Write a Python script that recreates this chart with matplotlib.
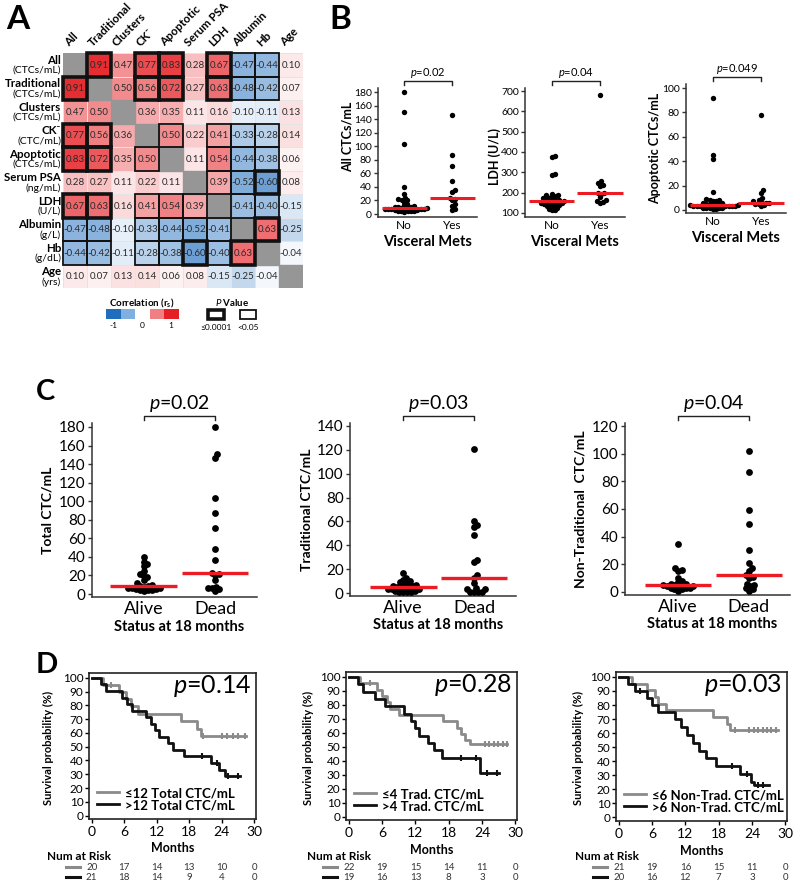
import numpy as np
import matplotlib
matplotlib.use("Agg")
import matplotlib.pyplot as plt
from matplotlib.colors import LinearSegmentedColormap
from matplotlib.patches import Rectangle
from matplotlib.lines import Line2D
from matplotlib.transforms import blended_transform_factory

plt.rcParams["font.family"] = ["Lato", "DejaVu Sans"]
plt.rcParams["mathtext.fontset"] = "custom"
plt.rcParams["mathtext.rm"] = "Lato"
plt.rcParams["mathtext.it"] = "Lato:italic"
plt.rcParams["mathtext.bf"] = "Lato:bold"

W, H = 800, 890

# ---------------- A: Spearman correlation matrix ----------------
VARS = ["All", "Traditional", "Clusters", "CK\u207b", "Apoptotic", "Serum PSA",
        "LDH", "Albumin", "Hb", "Age"]
UNITS = ["(CTCs/mL)", "(CTCs/mL)", "(CTCs/mL)", "(CTC/mL)", "(CTCs/mL)",
         "(ng/mL)", "(U/L)", "(g/L)", "(g/dL)", "(yrs)"]
NA = np.nan
CORR = [
    [NA, 0.91, 0.47, 0.77, 0.83, 0.28, 0.67, -0.47, -0.44, 0.10],
    [0.91, NA, 0.50, 0.56, 0.72, 0.27, 0.63, -0.48, -0.42, 0.07],
    [0.47, 0.50, NA, 0.36, 0.35, 0.11, 0.16, -0.10, -0.11, 0.13],
    [0.77, 0.56, 0.36, NA, 0.50, 0.22, 0.41, -0.33, -0.28, 0.14],
    [0.83, 0.72, 0.35, 0.50, NA, 0.11, 0.54, -0.44, -0.38, 0.06],
    [0.28, 0.27, 0.11, 0.22, 0.11, NA, 0.39, -0.52, -0.60, 0.08],
    [0.67, 0.63, 0.16, 0.41, 0.54, 0.39, NA, -0.41, -0.40, -0.15],
    [-0.47, -0.48, -0.10, -0.33, -0.44, -0.52, -0.41, NA, 0.63, -0.25],
    [-0.44, -0.42, -0.11, -0.28, -0.38, -0.60, -0.40, 0.63, NA, -0.04],
    [0.10, 0.07, 0.13, 0.14, 0.06, 0.08, -0.15, -0.25, -0.04, NA],
]
# variable pairs by P value: <=0.0001 (thick box) and <0.05 (thin box)
SIG_STRONG = [(0, 1), (0, 3), (0, 4), (1, 3), (1, 4), (0, 6), (1, 6), (7, 8), (5, 8)]
SIG_WEAK = [(0, 7), (0, 8), (1, 7), (1, 8), (3, 4), (3, 6), (4, 6), (3, 7), (3, 8),
            (4, 7), (4, 8), (5, 6), (5, 7), (6, 7), (6, 8)]

# ---------------- B: visceral mets ----------------
B_CATS = ["No", "Yes"]
B_ALL_NO = [180, 151, 104, 40, 30, 23, 22, 21, 20, 18, 15, 13, 12, 11, 11, 10, 9,
            9, 9, 8, 8, 8, 7, 7, 7, 6, 6, 5, 5, 5, 4, 4, 3]
B_ALL_YES = [146, 87, 71, 48, 36, 33, 23, 22, 20, 15, 12, 8, 6]
B_LDH_NO = [380, 376, 292, 288, 195, 190, 186, 182, 178, 175, 172, 168, 165, 162,
            160, 158, 156, 155, 152, 150, 148, 145, 142, 140, 137, 134, 130, 125,
            120, 115, 112]
B_LDH_YES = [680, 255, 245, 238, 232, 200, 197, 195, 180, 165, 160, 155, 150]
B_APO_NO = [92, 45, 42, 15, 9, 8, 8, 7, 7, 6, 6, 5, 5, 5, 4, 4, 4, 4, 3, 3, 3, 3,
            3, 3, 3, 2, 2, 2, 2, 2, 1, 1]
B_APO_YES = [78, 16, 14, 10, 8, 7, 6, 6, 6, 5, 5, 4, 3]

# ---------------- C: status at 18 months ----------------
C_CATS = ["Alive", "Dead"]
C_TOT_ALIVE = [40, 35, 32, 30, 25, 22, 20, 18, 15, 12, 10, 9, 9, 8, 7, 6, 6, 5, 5,
               4, 4, 4, 3]
C_TOT_DEAD = [180, 151, 147, 104, 87, 71, 48, 37, 23, 22, 20, 15, 8, 7, 6, 5, 3]
C_TRAD_ALIVE = [17, 13, 11, 10, 9, 8, 7, 7, 6, 6, 5, 5, 4, 4, 3, 3, 3, 2, 2, 1, 1,
                1, 1]
C_TRAD_DEAD = [121, 60, 57, 55, 49, 28, 26, 15, 13, 8, 4, 3, 3, 1, 1, 1, 1]
C_NT_ALIVE = [35, 17, 16, 15, 10, 8, 7, 6, 6, 5, 5, 5, 4, 4, 4, 3, 3, 3, 2, 2, 1]
C_NT_DEAD = [102, 87, 59, 49, 30, 21, 17, 15, 12, 11, 10, 6, 5, 4, 3, 2, 1]

# ---------------- D: Kaplan-Meier ----------------
KM_MONTHS = [0, 6, 12, 18, 24, 30]
D1_LO_T = [0, 2, 5, 6.3, 7.2, 8.5, 16.5, 19.5, 20.2, 28.5]
D1_LO_S = [100, 95, 90, 84.7, 79.4, 74, 68.5, 63, 57.5, 57.5]
D1_LO_C = [3.6, 20.5, 24, 25, 26, 27, 28.3]
D1_HI_T = [0, 1.8, 2.7, 5.5, 6.5, 7.5, 10, 11, 11.7, 12.5, 14, 15, 17, 22, 23.5,
           24.5, 27.3]
D1_HI_S = [100, 95.2, 90.5, 85.7, 81, 76.2, 71.4, 66.7, 61.9, 57.1, 52.4, 47.6,
           42.9, 38.1, 33.3, 28.6, 28.6]
D1_HI_C = [20.4, 23.1, 25.2, 27.0]
D1_RISK_LO = [20, 17, 14, 13, 10, 0]
D1_RISK_HI = [21, 18, 14, 9, 4, 0]

D2_LO_T = [0, 2, 5, 6, 6.8, 7.5, 9, 17, 19.5, 20.3, 21, 21.8, 28.5]
D2_LO_S = [100, 95.5, 90.9, 86.4, 81.8, 77.3, 72.7, 68.2, 63.6, 59.1, 55, 51.8, 51.8]
D2_LO_C = [3.8, 24.5, 25.3, 26.1, 26.9, 27.7, 28.5]
D2_HI_T = [0, 1.7, 2.6, 4.8, 6.5, 10, 11.2, 12, 12.6, 14.3, 15.3, 16.8, 23.6, 27]
D2_HI_S = [100, 94.7, 89.5, 84.2, 78.9, 73.7, 68.4, 63.2, 57.9, 52.6, 47.4, 42.1,
           31.5, 31.5]
D2_HI_C = [20.2, 22.9, 24.9, 26.7]
D2_RISK_LO = [22, 19, 15, 14, 11, 0]
D2_RISK_HI = [19, 16, 13, 8, 3, 0]

D3_LO_T = [0, 2.3, 5, 6.5, 7, 8.5, 17, 19.5, 20.1, 28.7]
D3_LO_S = [100, 95.2, 90.5, 85.7, 81, 76.2, 71.4, 66.7, 61.9, 61.9]
D3_LO_C = [21, 23.5, 24.3, 25.1, 25.9, 26.7, 27.5, 28.3]
D3_HI_T = [0, 1.7, 2.9, 5, 6, 7, 10.2, 11.2, 12.3, 13.3, 14.5, 15.8, 17.5, 21.9,
           23.8, 24.4, 27]
D3_HI_S = [100, 95, 90, 85, 80, 75, 70, 64.2, 58.7, 53.2, 47.6, 42.1, 36.6, 31.1,
           25.6, 22.8, 22.8]
D3_HI_C = [3.8, 20.4, 23.1, 25.0, 26.0]
D3_RISK_LO = [21, 19, 16, 15, 11, 0]
D3_RISK_HI = [20, 16, 12, 7, 3, 0]

GRAY, BLACK, RED = "#8a8a8a", "#111111", "#ed1c24"

fig = plt.figure(figsize=(W / 100, H / 100), dpi=100)


def add_ax(l, t, r, b):
    """Axes placed by pixel box (left, top, right, bottom)."""
    return fig.add_axes([l / W, 1 - b / H, (r - l) / W, (b - t) / H])


def ftext(x, y, s, **kw):
    return fig.text(x / W, 1 - y / H, s, **kw)


# ---- panel letters
ftext(6, 5, "A", fontsize=24, fontweight="bold", va="top")
ftext(329, 5, "B", fontsize=24, fontweight="bold", va="top")
ftext(36, 379, "C", fontsize=21, fontweight="bold", va="top")
ftext(36, 652, "D", fontsize=21, fontweight="bold", va="top")

# ================= A =================
ax = add_ax(63, 53, 303, 288)
corr = np.array(CORR, dtype=float)
cmap = LinearSegmentedColormap.from_list("bwr_fig", ["#0b5fb8", "#ffffff", "#e41a1f"])
ax.pcolormesh(np.arange(11), np.arange(11), np.ma.masked_invalid(corr), cmap=cmap,
              vmin=-1, vmax=1, edgecolors="#e4e4e4", linewidth=0.6)
n = len(VARS)
for i in range(n):
    ax.add_patch(Rectangle((i, i), 1, 1, color="#969696", zorder=2))
for r in range(n):
    for c in range(n):
        if np.isfinite(corr[r, c]):
            ax.text(c + 0.5, r + 0.52, f"{corr[r, c]:.2f}", ha="center", va="center",
                    fontsize=7, color="#2a2a2a")
for pairs, lw in ((SIG_WEAK, 1.3), (SIG_STRONG, 2.6)):
    for a, b in pairs:
        for r, c in ((a, b), (b, a)):
            ax.add_patch(Rectangle((c, r), 1, 1, fill=False, ec="#111111", lw=lw,
                                   zorder=4, clip_on=False))
for i, (name, unit) in enumerate(zip(VARS, UNITS)):
    ax.text(-0.08, i + 0.3, name, ha="right", va="center", fontsize=8.3,
            fontweight="bold")
    ax.text(-0.08, i + 0.74, unit, ha="right", va="center", fontsize=7.5)
    ax.text(i + 0.3, -0.2, name, rotation=45, rotation_mode="anchor", ha="left",
            va="bottom", fontsize=8.3, fontweight="bold")
ax.set_xlim(0, n)
ax.set_ylim(n, 0)
ax.axis("off")

# legend for A (pixel coordinates)
lax = add_ax(95, 296, 275, 335)
lax.set_xlim(95, 275)
lax.set_ylim(335, 296)
lax.axis("off")
lax.text(142, 303, r"Correlation ($\mathbf{r_s}$)", ha="center", va="center",
         fontsize=7, fontweight="bold")
for k, col in enumerate(["#1f6dbd", "#7fb0e0", "#ffffff", "#f07f84", "#e41f26"]):
    lax.add_patch(Rectangle((106 + k * 14.6, 309), 14.6, 10, fc=col, ec="none"))
for xv, lab in ((113, "-1"), (142, "0"), (171, "1")):
    lax.text(xv, 326, lab, ha="center", va="center", fontsize=6)
lax.text(232, 303, r"$P$ Value", ha="center", va="center", fontsize=7,
         fontweight="bold")
lax.add_patch(Rectangle((208, 309.5), 16, 9, fill=False, ec="#111", lw=2.6))
lax.add_patch(Rectangle((240, 309.5), 16, 9, fill=False, ec="#111", lw=1.3))
lax.text(216, 327, "\u22640.0001", ha="center", va="center", fontsize=6)
lax.text(248, 327, "<0.05", ha="center", va="center", fontsize=6)


# ================= helpers for dot plots =================
def swarm_x(ax, x0, vals, dot_px):
    tr = ax.transData
    ys = tr.transform(np.column_stack([np.full(len(vals), x0), vals]))[:, 1]
    px_per_x = tr.transform((x0 + 1, 0))[0] - tr.transform((x0, 0))[0]
    placed = []
    out = np.zeros(len(vals))
    for i in np.argsort(vals, kind="stable"):
        y = ys[i]
        cands = [0.0]
        for px, py in placed:
            dy = y - py
            if abs(dy) < dot_px:
                dx = np.sqrt(dot_px ** 2 - dy ** 2)
                cands += [px + dx, px - dx]
        cands.sort(key=abs)
        for cx in cands:
            if all((cx - px) ** 2 + (y - py) ** 2 >= dot_px ** 2 - 1e-6
                   for px, py in placed):
                break
        placed.append((cx, y))
        out[i] = x0 + cx / px_per_x
    return out


def dot_plot(ax, cats, groups, xlim, ylim, yticks, dot_px, ms, red_lw,
             tick_fs, cat_fs, cat_pad):
    ax.set_xlim(*xlim)
    ax.set_ylim(*ylim)
    for x0, vals in enumerate(groups):
        vals = np.asarray(vals, float)
        xs = swarm_x(ax, x0, vals, dot_px)
        ax.scatter(xs, vals, s=ms, c="black", linewidths=0, zorder=3, clip_on=False)
        med = np.median(vals)
        ax.plot([x0 - 0.47, x0 + 0.47], [med, med], color=RED, lw=red_lw, zorder=4,
                solid_capstyle="butt")
    ax.set_xticks(range(len(cats)))
    ax.set_xticklabels(cats)
    ax.set_yticks(yticks)
    for s in ("top", "right"):
        ax.spines[s].set_visible(False)
    for s in ("left", "bottom"):
        ax.spines[s].set_linewidth(1.1)
        ax.spines[s].set_color("#333333")
    ax.tick_params(axis="y", direction="out", length=3, width=1, labelsize=tick_fs,
                   pad=1.5, color="#333333")
    ax.tick_params(axis="x", length=0, labelsize=cat_fs, pad=cat_pad)


def bracket(ax, y_top, y_low, text, fs, ty):
    tr = ax.get_xaxis_transform()
    ax.plot([0, 0, 1, 1], [y_low, y_top, y_top, y_low], transform=tr, clip_on=False,
            color="#222222", lw=1)
    ax.text(0.5, ty, text, transform=tr, ha="center", va="bottom", fontsize=fs)


def labels(ax, ylabel, yfs, yx, yy, xlabel, xfs, xx, xy):
    ax.set_ylabel(ylabel, fontsize=yfs, fontweight="bold", va="center")
    ax.yaxis.set_label_coords(yx, yy)
    ax.set_xlabel(xlabel, fontsize=xfs, fontweight="bold", va="center")
    ax.xaxis.set_label_coords(xx, xy)


# ================= B =================
b_specs = [
    ((378, 88, 477, 217), [B_ALL_NO, B_ALL_YES], (-4.4, 186), range(0, 181, 20),
     "All CTCs/mL", -0.31, 0.62, r"$p$=0.02"),
    ((525, 88, 625, 217), [B_LDH_NO, B_LDH_YES], (80, 715), range(100, 701, 100),
     "LDH (U/L)", -0.30, 0.47, r"$p$=0.04"),
    ((686, 84, 786, 213), [B_APO_NO, B_APO_YES], (-2.5, 103.3), range(0, 101, 20),
     "Apoptotic CTCs/mL", -0.31, 0.5, r"$p$=0.049"),
]
for box, groups, ylim, yt, ylab, yx, yy, ptxt in b_specs:
    ax = add_ax(*box)
    dot_plot(ax, B_CATS, groups, (-0.55, 1.52), ylim, yt, dot_px=3.3, ms=15,
             red_lw=2.2, tick_fs=7.5, cat_fs=8.5, cat_pad=2)
    labels(ax, ylab, 9, yx, yy, "Visceral Mets", 10.5, 0.5, -0.19)
    bracket(ax, 1.054, 1.023, ptxt, 8, 1.06)

# ================= C =================
c_specs = [
    ((92, 423, 257, 597), [C_TOT_ALIVE, C_TOT_DEAD], (-0.73, 1.59), (-3.2, 184.3),
     range(0, 181, 20), "Total CTC/mL", -0.27, r"$p$=0.02"),
    ((350, 423, 516, 596), [C_TRAD_ALIVE, C_TRAD_DEAD], (-0.75, 1.59), (-2.5, 142.5),
     range(0, 141, 20), "Traditional CTC/mL", -0.26, r"$p$=0.03"),
    ((625, 423, 790, 595), [C_NT_ALIVE, C_NT_DEAD], (-0.75, 1.58), (-2.2, 122.2),
     range(0, 121, 20), "Non-Traditional  CTC/mL", -0.27, r"$p$=0.04"),
]
for box, groups, xlim, ylim, yt, ylab, yx, ptxt in c_specs:
    ax = add_ax(*box)
    dot_plot(ax, C_CATS, groups, xlim, ylim, yt, dot_px=4.0, ms=24, red_lw=2.4,
             tick_fs=11, cat_fs=13, cat_pad=3)
    labels(ax, ylab, 10, yx, 0.5, "Status at 18 months", 10.5, 0.53, -0.17)
    bracket(ax, 1.04, 1.017, ptxt, 14, 1.05)

# ================= D =================
d_specs = [
    ((89, 673, 256, 819), D1_LO_T, D1_LO_S, D1_LO_C, D1_HI_T, D1_HI_S, D1_HI_C,
     D1_RISK_LO, D1_RISK_HI, "12 Total CTC/mL", r"$p$=0.14", 47, 66, -0.245),
    ((346, 672, 517, 820), D2_LO_T, D2_LO_S, D2_LO_C, D2_HI_T, D2_HI_S, D2_HI_C,
     D2_RISK_LO, D2_RISK_HI, "4 Trad. CTC/mL", r"$p$=0.28", 307, 323, -0.22),
    ((616, 672, 787, 821), D3_LO_T, D3_LO_S, D3_LO_C, D3_HI_T, D3_HI_S, D3_HI_C,
     D3_RISK_LO, D3_RISK_HI, "6 Non-Trad. CTC/mL", r"$p$=0.03", 575, 593, -0.22),
]
for (box, lo_t, lo_s, lo_c, hi_t, hi_s, hi_c, risk_lo, risk_hi, grp, ptxt,
     risk_x, line_x, ylx) in d_specs:
    ax = add_ax(*box)
    ax.set_xlim(-0.5, 30.3)
    ax.set_ylim(-2.5, 103.5)
    for t, s, cens, col, lab in ((lo_t, lo_s, lo_c, GRAY, "\u2264" + grp),
                                 (hi_t, hi_s, hi_c, BLACK, ">" + grp)):
        t, s = np.asarray(t, float), np.asarray(s, float)
        ax.step(t, s, where="post", color=col, lw=2, label=lab)
        cy = s[np.searchsorted(t, cens, side="right") - 1]
        ax.plot(cens, cy, ls="none", marker="|", ms=5, mew=1.5, color=col)
    ax.set_xticks(KM_MONTHS)
    ax.set_yticks(range(0, 101, 10))
    for sp in ax.spines.values():
        sp.set_linewidth(1.2)
        sp.set_color("#222222")
    ax.tick_params(axis="y", direction="out", length=3, width=1, labelsize=8.5, pad=1)
    ax.tick_params(axis="x", direction="out", length=3, width=1, labelsize=10, pad=2)
    ax.set_ylabel("Survival probability (%)", fontsize=8, fontweight="bold",
                  va="center")
    ax.yaxis.set_label_coords(ylx, 0.49)
    ax.set_xlabel("Months", fontsize=9, fontweight="bold", va="center")
    ax.xaxis.set_label_coords(0.5, -0.2)
    ax.text(0.97, 0.91, ptxt, transform=ax.transAxes, ha="right", va="center",
            fontsize=18)
    ax.legend(loc="lower left", bbox_to_anchor=(0.0, 0.0), frameon=False,
              handlelength=1.7, handletextpad=0.4, labelspacing=0.0,
              borderaxespad=0.2, prop={"weight": "bold", "size": 9.5})
    # number at risk table
    bt = blended_transform_factory(ax.transData, fig.transFigure)
    ftext(risk_x, 857, "Num at Risk", fontsize=8.5, fontweight="bold", va="center")
    for yy, col, counts in ((867, GRAY, risk_lo), (877, BLACK, risk_hi)):
        fig.add_artist(Line2D([line_x / W, (line_x + 14) / W], [1 - yy / H, 1 - yy / H],
                              color=col, lw=2.2, transform=fig.transFigure))
        for m, cnt in zip(KM_MONTHS, counts):
            ax.text(m, 1 - yy / H, str(cnt), transform=bt, ha="center", va="center",
                    fontsize=7, color="#333333")

fig.savefig("out.png", dpi=100)
